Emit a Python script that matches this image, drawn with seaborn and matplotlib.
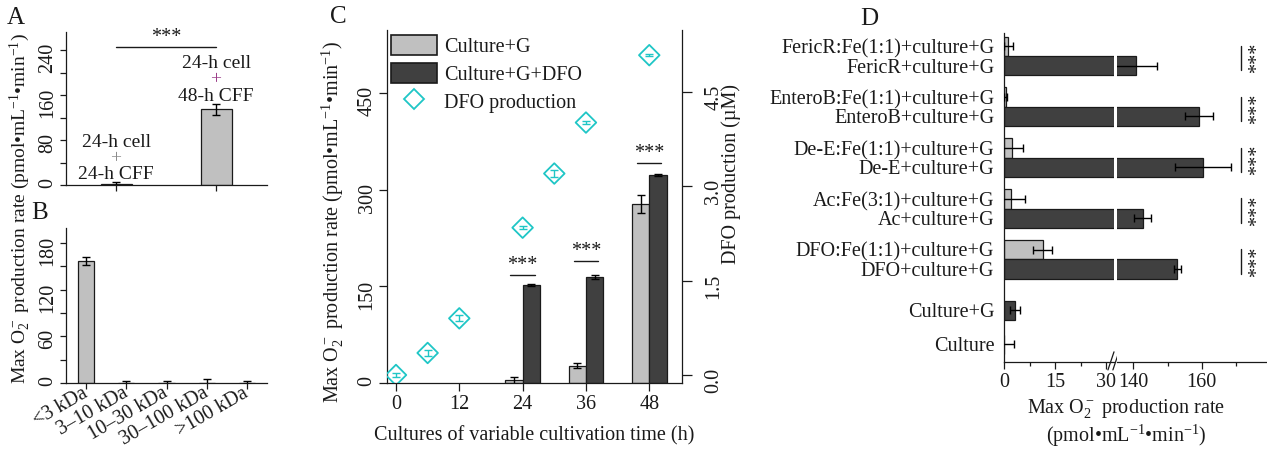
import numpy as np
import pandas as pd
import matplotlib
matplotlib.use("Agg")
import matplotlib.pyplot as plt
from matplotlib.patches import Patch
from matplotlib.lines import Line2D
from matplotlib.ticker import MultipleLocator, FixedLocator
import seaborn as sns

# ---------------- data ----------------
# Panel A
a_categories = ["24-h cell + 24-h CFF", "24-h cell + 48-h CFF"]
a_line1 = ["24-h cell", "24-h cell"]
a_line2 = ["24-h CFF", "48-h CFF"]
a_values = [1.0, 134.5]
a_errors = [4.0, 10.0]
a_sig_y = 246
a_yticks = [0, 80, 160, 240]

# Panel B
b_categories = ["<3 kDa", "3–10 kDa", "10–30 kDa", "30–100 kDa", ">100 kDa"]
b_values = [157.0, 0.4, 0.4, 0.6, 0.3]
b_errors = [5.0, 2.0, 2.4, 4.0, 1.8]
b_yticks = [0, 60, 120, 180]

# Panel C
c_times = [24, 36, 48]
c_culture_g = [4.0, 27.0, 278.0]
c_culture_g_err = [5.0, 4.0, 14.5]
c_culture_g_dfo = [152.0, 164.5, 323.5]
c_culture_g_dfo_err = [1.0, 3.0, 1.5]
c_dfo_times = [0, 6, 12, 24, 30, 36, 48]
c_dfo_conc = [0.0, 0.35, 0.90, 2.34, 3.20, 4.01, 5.08]
c_dfo_err = [0.03, 0.05, 0.05, 0.02, 0.05, 0.03, 0.02]
c_sig_y = [167, 189, 342]
c_xticks = [0, 12, 24, 36, 48]
c_yticks = [0, 150, 300, 450]
c_y2ticks = [0.0, 1.5, 3.0, 4.5]

# Panel D
d_labels = ["FericR:Fe(1:1)+culture+G", "FericR+culture+G",
            "EnteroB:Fe(1:1)+culture+G", "EnteroB+culture+G",
            "De-E:Fe(1:1)+culture+G", "De-E+culture+G",
            "Ac:Fe(3:1)+culture+G", "Ac+culture+G",
            "DFO:Fe(1:1)+culture+G", "DFO+culture+G",
            "Culture+G", "Culture"]
d_values = [1.3, 140.8, 0.5, 159.2, 2.3, 160.5, 2.1, 142.8, 11.4, 152.9, 3.2, 0.0]
d_errors = [1.4, 6.1, 0.5, 4.1, 3.4, 8.2, 4.1, 2.5, 2.8, 1.1, 1.5, 2.9]
d_kind = ["Fe complex", "free"] * 5 + ["free", "free"]
d_xticks_low = [0, 15, 30]
d_xticks_high = [140, 160]

# ---------------- style ----------------
sns.set_theme(style="ticks")
FS = 14.5
plt.rcParams.update({
    "font.family": ["Liberation Serif", "DejaVu Serif"],
    "font.size": FS,
    "axes.labelsize": FS,
    "xtick.labelsize": FS,
    "ytick.labelsize": FS,
    "legend.fontsize": FS,
    "mathtext.fontset": "custom",
    "mathtext.rm": "Liberation Serif",
    "mathtext.it": "Liberation Serif:italic",
    "mathtext.bf": "Liberation Serif:bold",
    "axes.edgecolor": "#1a1a1a",
    "axes.linewidth": 0.9,
    "xtick.color": "#1a1a1a",
    "ytick.color": "#1a1a1a",
    "text.color": "#1a1a1a",
    "xtick.direction": "out",
    "ytick.direction": "out",
})

LIGHT = "#c0c0c0"
DARK = "#404040"
EDGE = "#1a1a1a"
CYAN = "#1fc6c6"
PLUS_A = "#8c8c8c"
PLUS_B = "#9c3f8a"

W, H = 1267, 450
fig = plt.figure(figsize=(W / 100, H / 100), dpi=100)


def add_ax(l, t, r, b):
    return fig.add_axes([l / W, 1 - b / H, (r - l) / W, (b - t) / H])


def spines(ax, keep):
    for s in ["left", "right", "top", "bottom"]:
        ax.spines[s].set_visible(s in keep)
        ax.spines[s].set_linewidth(0.9)
        ax.spines[s].set_color(EDGE)


def ftext(px, py, s, **kw):
    fig.text(px / W, 1 - py / H, s, **kw)


ERR = dict(fmt="none", ecolor="black", elinewidth=1.0, capsize=3.2, capthick=1.0, zorder=5)
ylab = "Max O$_2^-$ production rate (pmol•mL$^{-1}$•min$^{-1}$)"

# ---------------- Panel A ----------------
axA = add_ax(66, 32, 267, 185)
sns.barplot(x=a_categories, y=a_values, color=LIGHT, saturation=1, width=0.31,
            edgecolor=EDGE, linewidth=0.9, errorbar=None, ax=axA)
a_x = [p.get_x() + p.get_width() / 2 for p in axA.patches]
axA.errorbar(a_x, a_values, yerr=a_errors, **ERR)
axA.set_xlim(-0.5, 1.51)
axA.set_ylim(0, 272)
axA.set_yticks(a_yticks)
axA.yaxis.set_minor_locator(MultipleLocator(40))
axA.set_xticks(a_x)
axA.set_xticklabels([])
axA.set_xlabel("")
spines(axA, ["left", "bottom"])
axA.tick_params(axis="y", which="both", labelrotation=90, pad=2)
axA.tick_params(which="major", length=4.5, width=0.9)
axA.tick_params(which="minor", length=4.5, width=0.9)
plus_cols = [PLUS_A, PLUS_B]
AFS = 14
for x, v, e, l1, l2, pc in zip(a_x, a_values, a_errors, a_line1, a_line2, plus_cols):
    top = v + e
    axA.annotate(l2, (x, top), xytext=(0, 5.5), textcoords="offset points",
                 ha="center", va="center", fontsize=AFS)
    axA.annotate("+", (x, top), xytext=(0, 17.3), textcoords="offset points",
                 ha="center", va="center", color=pc, fontsize=AFS)
    axA.annotate(l1, (x, top), xytext=(0, 28.8), textcoords="offset points",
                 ha="center", va="center", fontsize=AFS)
axA.plot([a_x[0], a_x[1]], [a_sig_y, a_sig_y], color=EDGE, lw=1.0, clip_on=False)
axA.text((a_x[0] + a_x[1]) / 2, a_sig_y, "***", ha="center", va="bottom", fontsize=FS)

# ---------------- Panel B ----------------
axB = add_ax(66, 228, 267, 383)
sns.barplot(x=b_categories, y=b_values, color=LIGHT, saturation=1, width=0.4,
            edgecolor=EDGE, linewidth=0.9, errorbar=None, ax=axB)
b_x = [p.get_x() + p.get_width() / 2 for p in axB.patches]
axB.errorbar(b_x, b_values, yerr=b_errors, **ERR)
axB.set_xlim(-0.5, 4.5)
axB.set_ylim(0, 199)
axB.set_yticks(b_yticks)
axB.yaxis.set_minor_locator(MultipleLocator(30))
spines(axB, ["left", "bottom"])
axB.tick_params(axis="y", which="both", labelrotation=90, pad=2)
axB.tick_params(which="both", length=4.5, width=0.9)
axB.tick_params(axis="x", pad=2)
plt.setp(axB.get_xticklabels(), rotation=30, ha="right", va="center", rotation_mode="anchor")
axB.set_xlabel("")

ftext(16, 18, "A", fontsize=18, ha="center", va="center")
ftext(40, 213, "B", fontsize=18, ha="center", va="center")
ftext(20, 209, ylab, rotation=90, ha="center", va="center", fontsize=14)

# ---------------- Panel C ----------------
axC = add_ax(387, 30, 682, 383)
dfC = pd.DataFrame({
    "time": c_times * 2,
    "rate": c_culture_g + c_culture_g_dfo,
    "err": c_culture_g_err + c_culture_g_dfo_err,
    "treatment": ["Culture+G"] * len(c_times) + ["Culture+G+DFO"] * len(c_times),
})
sns.barplot(data=dfC, x="time", y="rate", hue="treatment", native_scale=True,
            width=0.55, palette={"Culture+G": LIGHT, "Culture+G+DFO": DARK},
            saturation=1, edgecolor=EDGE, linewidth=0.9, errorbar=None,
            legend=False, ax=axC)
c_bars = list(axC.patches)
c_x = [p.get_x() + p.get_width() / 2 for p in c_bars]
axC.errorbar(c_x, dfC["rate"], yerr=dfC["err"], **ERR)
n = len(c_times)
for i in range(n):
    pl, pd_ = c_bars[i], c_bars[i + n]
    x0 = pl.get_x() + 0.3 * pl.get_width()
    x1 = pd_.get_x() + 0.7 * pd_.get_width()
    axC.plot([x0, x1], [c_sig_y[i], c_sig_y[i]], color=EDGE, lw=1.0)
    axC.text((x0 + x1) / 2, c_sig_y[i], "***", ha="center", va="bottom", fontsize=FS)
axC.set_xlim(-1.7, 54.2)
axC.set_ylim(0, 548)
axC.set_xticks(c_xticks)
axC.set_xticklabels([str(t) for t in c_xticks])
axC.set_yticks(c_yticks)
axC.set_xlabel("")
axC.set_ylabel("")
spines(axC, ["left", "bottom"])
axC.tick_params(axis="y", labelrotation=90, pad=2, length=5.5, width=0.9)
axC.tick_params(axis="x", length=5.5, width=0.9, pad=3)

axC2 = axC.twinx()
sns.scatterplot(x=c_dfo_times, y=c_dfo_conc, marker="D", s=110, color=CYAN,
                facecolors="none", edgecolor=CYAN, linewidth=1.3, zorder=4,
                legend=False, ax=axC2)
axC2.errorbar(c_dfo_times, c_dfo_conc, yerr=c_dfo_err, fmt="none", ecolor=CYAN,
              elinewidth=1.0, capsize=3, capthick=1.0, zorder=4)
axC2.set_ylim(-0.127, 5.48)
axC2.set_yticks(c_y2ticks)
axC2.set_yticklabels([f"{v:.1f}" for v in c_y2ticks])
axC2.set_ylabel("")
spines(axC2, ["right"])
axC2.tick_params(axis="y", labelrotation=90, pad=9, length=7, width=0.9)

handles = [
    Patch(facecolor=LIGHT, edgecolor=EDGE, linewidth=1.2, label="Culture+G"),
    Patch(facecolor=DARK, edgecolor=EDGE, linewidth=1.2, label="Culture+G+DFO"),
    Line2D([], [], marker="D", ls="", mfc="none", mec=CYAN, mew=1.3, ms=10.5, label="DFO production"),
]
axC2.legend(handles=handles, loc="upper left", bbox_to_anchor=(0.012, 0.985),
            frameon=False, handlelength=2.3, handleheight=1.1, labelspacing=0.32,
            handletextpad=0.35, borderaxespad=0, borderpad=0)

ftext(338, 17, "C", fontsize=18, ha="center", va="center")
ftext(333, 222, ylab, rotation=90, ha="center", va="center")
ftext(534, 436, "Cultures of variable cultivation time (h)", ha="center", va="center")
ftext(731, 174, "DFO production (µM)", rotation=90, ha="center", va="center")

# ---------------- Panel D (broken x axis) ----------------
axD1 = add_ax(1004, 33.3, 1114, 361.7)
axD2 = add_ax(1117, 33.3, 1266, 361.7)
PAIR_HALF = 0.19
d_pos = [k // 2 + (PAIR_HALF if k % 2 else -PAIR_HALF) for k in range(10)] + [5.0, 5.67]
dfD = pd.DataFrame({"pos": d_pos, "value": d_values, "err": d_errors, "kind": d_kind})
for ax in (axD1, axD2):
    sns.barplot(data=dfD, x="value", y="pos", hue="kind", orient="y", native_scale=True,
                dodge=False, width=1.0, palette={"Fe complex": LIGHT, "free": DARK},
                saturation=1, edgecolor=EDGE, linewidth=0.9, errorbar=None,
                legend=False, ax=ax)
    ax.errorbar(dfD["value"], dfD["pos"], xerr=dfD["err"], **ERR)
    ax.set_ylim(6.01, -0.445)
    ax.set_xlabel("")
    ax.set_ylabel("")

axD1.set_xlim(0, 32.35)
axD1.set_xticks(d_xticks_low)
axD1.xaxis.set_minor_locator(FixedLocator([7.5, 22.5]))
axD1.set_yticks(d_pos)
axD1.set_yticklabels(d_labels)
spines(axD1, ["left", "bottom"])
axD1.tick_params(axis="y", length=0, pad=7)

axD2.set_xlim(135.23, 178.8)
axD2.set_xticks(d_xticks_high)
axD2.xaxis.set_minor_locator(FixedLocator([150, 170]))
axD2.set_yticks([])
spines(axD2, ["bottom"])
for ax in (axD1, axD2):
    ax.tick_params(axis="x", which="major", length=5, width=0.9, pad=3)
    ax.tick_params(axis="x", which="minor", length=3, width=0.9)

# break marks
for dx in (0.0, 0.045):
    axD1.plot([0.945 + dx, 1.0 + dx], [-0.025, 0.03], transform=axD1.transAxes,
              color=EDGE, lw=0.9, clip_on=False)

# significance
for i in range(5):
    axD2.plot([171.5, 171.5], [i - 0.2, i + 0.28], color=EDGE, lw=1.0, clip_on=False)
    axD2.text(176.4, i + 0.04, "***", rotation=90, ha="center", va="center",
              fontsize=FS, clip_on=False)

ftext(869, 19, "D", fontsize=18, ha="center", va="center")
ftext(1126, 423, "Max O$_2^-$ production rate\n(pmol•mL$^{-1}$•min$^{-1}$)",
      ha="center", va="center", linespacing=1.1)

fig.savefig("out.png", dpi=100)
